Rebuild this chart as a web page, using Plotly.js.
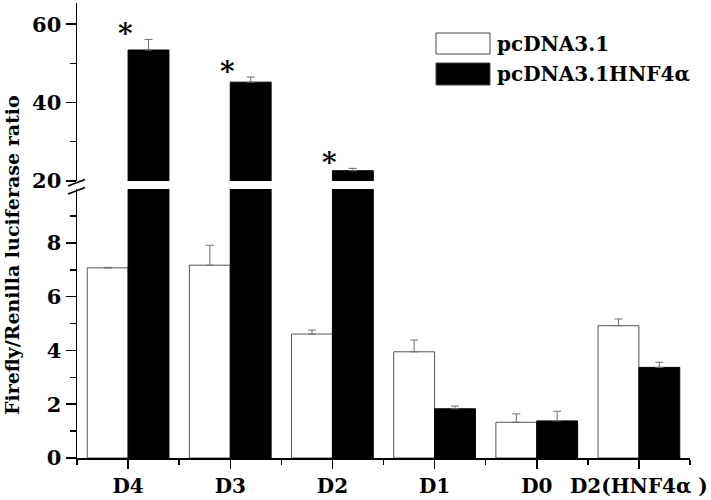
<!DOCTYPE html>
<html>
<head>
<meta charset="utf-8">
<script src="https://cdn.plot.ly/plotly-3.0.1.min.js"></script>
<style>html,body{margin:0;padding:0;background:#fff;}#chart{width:711px;height:500px;}</style>
</head>
<body>
<div id="chart"></div>
<script>
const categories = ['D4', 'D3', 'D2', 'D1', 'D0', 'D2(HNF4α )'];
const seriesNames = ['pcDNA3.1', 'pcDNA3.1HNF4α'];
const ctrlVals = [7.07, 7.17, 4.61, 3.95, 1.33, 4.92];
const ctrlErr  = [0.02, 0.74, 0.15, 0.44, 0.31, 0.25];
const hnfVals  = [53.4, 45.2, 22.6, 1.83, 1.38, 3.37];
const hnfErr   = [2.7, 1.3, 0.6, 0.1, 0.36, 0.19];
const sigMarks = ['*', '*', '*', '', '', ''];
const lowerTicks = [0, 2, 4, 6, 8];
const upperTicks = [20, 40, 60];
const yTitle = 'Firefly/Renilla luciferase ratio';

const FONT = 'DejaVu Serif';
const xs = categories.map((c, i) => i);
const zeros = categories.map(() => 0);

function mk(vals, errs, name, fill, line, yaxis) {
  return {
    type: 'bar', x: xs, y: vals, name: name, yaxis: yaxis, xaxis: 'x',
    showlegend: false,
    marker: {color: fill, line: {color: line, width: 1}},
    error_y: {type: 'data', symmetric: false, array: errs, arrayminus: zeros,
              color: '#707070', thickness: 1, width: 4},
    hoverinfo: 'skip'
  };
}

const traces = [
  mk(ctrlVals, ctrlErr, seriesNames[0], '#ffffff', '#555555', 'y'),
  mk(hnfVals, hnfErr, seriesNames[1], '#000000', '#000000', 'y'),
  mk(ctrlVals, ctrlErr, seriesNames[0], '#ffffff', '#555555', 'y2'),
  mk(hnfVals, hnfErr, seriesNames[1], '#000000', '#000000', 'y2')
];

const L = 77, T = 3, PW = 613, PH = 455;
const px = v => (v - L) / PW;
const py = v => (T + PH - v) / PH;

const annotations = [];
sigMarks.forEach((s, i) => {
  if (!s) return;
  annotations.push({xref: 'x', yref: 'y2', x: xs[i] - 0.03, y: hnfVals[i] + hnfErr[i],
    text: '<b>' + s + '</b>', showarrow: false, yanchor: 'bottom', yshift: -13,
    font: {family: FONT, size: 28, color: '#000'}});
});
annotations.push({xref: 'paper', yref: 'paper', x: px(12), y: py(255), text: '<b>' + yTitle + '</b>',
  textangle: -90, showarrow: false, xanchor: 'center', yanchor: 'middle',
  font: {family: FONT, size: 19, color: '#000'}});
seriesNames.forEach((n, k) => {
  annotations.push({xref: 'paper', yref: 'paper', x: px(495), y: py(43.5 + k * 30.5),
    text: '<b>' + n + '</b>', showarrow: false, xanchor: 'left', yanchor: 'middle',
    font: {family: FONT, size: 20, color: '#000'}});
});

const shapes = [
  {type: 'rect', xref: 'paper', yref: 'paper', x0: px(436), x1: px(490), y0: py(33), y1: py(54),
   fillcolor: '#ffffff', line: {color: '#444', width: 1}},
  {type: 'rect', xref: 'paper', yref: 'paper', x0: px(436), x1: px(490), y0: py(63), y1: py(85),
   fillcolor: '#000000', line: {color: '#444', width: 1}},
  {type: 'line', xref: 'paper', yref: 'paper', x0: px(68), x1: px(85), y0: py(186), y1: py(179.5),
   line: {color: '#000', width: 1.5}},
  {type: 'line', xref: 'paper', yref: 'paper', x0: px(68), x1: px(85), y0: py(194), y1: py(187.5),
   line: {color: '#000', width: 1.5}}
];

const tf = {family: FONT, size: 21, color: '#000'};
const layout = {
  width: 711, height: 500,
  margin: {l: L, r: 711 - L - PW, t: T, b: 500 - T - PH},
  paper_bgcolor: '#fff', plot_bgcolor: '#fff',
  showlegend: false,
  barmode: 'group', bargap: 0.2, bargroupgap: 0,
  font: {family: FONT, color: '#000'},
  xaxis: {
    range: [-0.5, categories.length - 0.5], anchor: 'y',
    tickmode: 'array', tickvals: xs, ticktext: categories.map(c => '<b>' + c + '</b>'),
    ticks: 'outside', ticklen: 9, tickwidth: 1.5, tickcolor: '#000',
    minor: {tickmode: 'array', tickvals: categories.map((c, i) => i - 0.5).concat([categories.length - 0.5]),
            ticks: 'outside', ticklen: 5, tickwidth: 1.5, tickcolor: '#000', showgrid: false},
    showline: true, linecolor: '#000', linewidth: 1.5,
    showgrid: false, zeroline: false,
    tickfont: {family: FONT, size: 20, color: '#000'}
  },
  yaxis: {
    domain: [0, 0.591], range: [0, 10], anchor: 'x',
    tickmode: 'array', tickvals: lowerTicks, ticktext: lowerTicks.map(v => '<b>' + v + '</b>'),
    ticks: 'outside', ticklen: 10, tickwidth: 1.5, tickcolor: '#000',
    minor: {tickmode: 'array', tickvals: [1, 3, 5, 7, 9], ticks: 'outside', ticklen: 6,
            tickwidth: 1.5, tickcolor: '#000', showgrid: false},
    showline: true, linecolor: '#000', linewidth: 1.5,
    showgrid: false, zeroline: false,
    tickfont: tf
  },
  yaxis2: {
    domain: [0.609, 1], range: [20, 65.4], anchor: 'x',
    tickmode: 'array', tickvals: upperTicks, ticktext: upperTicks.map(v => '<b>' + v + '</b>'),
    ticks: 'outside', ticklen: 10, tickwidth: 1.5, tickcolor: '#000',
    minor: {tickmode: 'array', tickvals: [30, 50], ticks: 'outside', ticklen: 6,
            tickwidth: 1.5, tickcolor: '#000', showgrid: false},
    showline: true, linecolor: '#000', linewidth: 1.5,
    showgrid: false, zeroline: false,
    tickfont: tf
  },
  annotations: annotations,
  shapes: shapes
};

Plotly.newPlot('chart', traces, layout, {displayModeBar: false, staticPlot: true});
</script>
</body>
</html>
